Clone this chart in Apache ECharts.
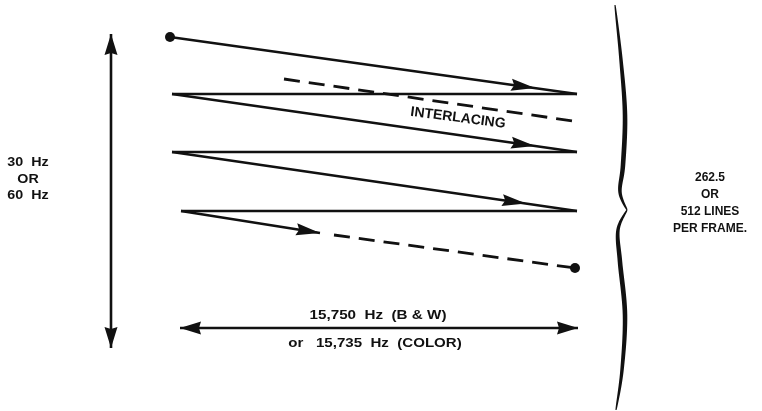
<!DOCTYPE html>
<html>
<head>
<meta charset="utf-8">
<script src="https://cdn.jsdelivr.net/npm/echarts@6/dist/echarts.min.js"></script>
<style>
  html, body { margin: 0; padding: 0; background: #fff; }
  #chart { width: 762px; height: 411px; }
</style>
</head>
<body>
<div id="chart"></div>
<script>
// diagram space is 762 x 411, y grows downwards

// scan traces: x1, y1, x2, y2, x of the arrow tip
const scanLines = [
  [170, 37, 577, 94, 535],
  [172, 94, 577, 152, 535],
  [172, 152, 577, 211, 526],
  [181, 211, 320, 233, 320]
];
// horizontal retrace lines
const retraceLines = [
  [172, 94, 577, 94],
  [172, 152, 577, 152],
  [181, 211, 577, 211]
];
// dashed: interlaced field + rest of last line
const dashedLines = [
  [284, 79, 573, 121],
  [334, 235, 575, 268]
];
const endDots = [[170, 37], [575, 268]];
// double headed arrows: vertical (frame rate) and horizontal (line rate)
const dimArrows = [
  [111, 34, 111, 348],
  [180, 328, 578, 328]
];
// curly brace, upper and lower half, meeting at the tip
const braceUpper = [[615, 5], [621, 60], [625, 115], [623, 165], [620, 192], [627, 210]];
const braceLower = [[627, 210], [618, 230], [620, 262], [625, 315], [622, 370], [616, 410]];

const labelPos = [[28, 179], [710, 203], [458, 118], [378, 315], [375, 343]];
const labelText = [
  '30  Hz\nOR\n60  Hz',
  '262.5\nOR\n512 LINES\nPER FRAME.',
  'INTERLACING',
  '15,750  Hz  (B & W)',
  'or   15,735  Hz  (COLOR)'
];

const INK = '#111';
const FONT = '"Liberation Sans", Arial, Helvetica, sans-serif';
// font size, horizontal stretch, line height per label
const labelLook = [[13, 1.1, 16.5], [12.5, 0.96, 17], [14, 1.0, 16], [13, 1.17, 16], [13, 1.16, 16]];

function head(tip, from, len, hw, notch) {
  const dx = tip[0] - from[0], dy = tip[1] - from[1];
  const l = Math.hypot(dx, dy);
  const ux = dx / l, uy = dy / l, nx = -uy, ny = ux;
  const bx = tip[0] - ux * len, by = tip[1] - uy * len;
  return {
    type: 'polygon',
    shape: { points: [tip, [bx + nx * hw, by + ny * hw], [bx + ux * notch, by + uy * notch], [bx - nx * hw, by - ny * hw]] },
    style: { fill: INK }
  };
}

function seg(a, b, w, dash) {
  return {
    type: 'line',
    shape: { x1: a[0], y1: a[1], x2: b[0], y2: b[1] },
    style: { stroke: INK, lineWidth: w, lineDash: dash || null }
  };
}

function catmull(pts, steps) {
  const out = [];
  for (let i = 0; i < pts.length - 1; i++) {
    const p0 = pts[Math.max(i - 1, 0)], p1 = pts[i], p2 = pts[i + 1], p3 = pts[Math.min(i + 2, pts.length - 1)];
    for (let s = 0; s < steps; s++) {
      const t = s / steps, t2 = t * t, t3 = t2 * t;
      out.push([0, 1].map(k => 0.5 * (2 * p1[k] + (-p0[k] + p2[k]) * t +
        (2 * p0[k] - 5 * p1[k] + 4 * p2[k] - p3[k]) * t2 +
        (-p0[k] + 3 * p1[k] - 3 * p2[k] + p3[k]) * t3)));
    }
  }
  out.push(pts[pts.length - 1]);
  return out;
}

const braceHalves = [braceUpper, braceLower];

const chart = echarts.init(document.getElementById('chart'));

chart.setOption({
  animation: false,
  backgroundColor: '#fff',
  grid: { left: 0, right: 0, top: 0, bottom: 0 },
  xAxis: { type: 'value', min: 0, max: 762, show: false },
  yAxis: { type: 'value', min: 0, max: 411, inverse: true, show: false },
  series: [
    {
      type: 'custom',
      name: 'scan',
      data: scanLines,
      renderItem: function (params, api) {
        const x1 = api.value(0), y1 = api.value(1), x2 = api.value(2), y2 = api.value(3), tx = api.value(4);
        const ty = y1 + (y2 - y1) * (tx - x1) / (x2 - x1);
        const a = api.coord([x1, y1]), b = api.coord([x2, y2]), t = api.coord([tx, ty]);
        return { type: 'group', children: [seg(a, b, 2.4), head(t, a, 24, 6, 3)] };
      }
    },
    {
      type: 'custom',
      name: 'retrace',
      data: retraceLines,
      renderItem: function (params, api) {
        return seg(api.coord([api.value(0), api.value(1)]), api.coord([api.value(2), api.value(3)]), 2.5);
      }
    },
    {
      type: 'custom',
      name: 'dashed',
      data: dashedLines,
      renderItem: function (params, api) {
        return seg(api.coord([api.value(0), api.value(1)]), api.coord([api.value(2), api.value(3)]), 2.8, [16, 9]);
      }
    },
    {
      type: 'scatter',
      name: 'dots',
      data: endDots,
      symbolSize: 10,
      itemStyle: { color: INK, opacity: 1 }
    },
    {
      type: 'custom',
      name: 'dims',
      data: dimArrows,
      renderItem: function (params, api) {
        const a = api.coord([api.value(0), api.value(1)]), b = api.coord([api.value(2), api.value(3)]);
        return { type: 'group', children: [seg(a, b, 2.6), head(a, b, 21, 6.5, 2), head(b, a, 21, 6.5, 2)] };
      }
    },
    {
      type: 'custom',
      name: 'brace',
      data: [[0], [1]],
      renderItem: function (params, api) {
        const pts = catmull(braceHalves[params.dataIndex].map(p => api.coord(p)), 12);
        const n = pts.length;
        const left = [], right = [];
        for (let i = 0; i < n; i++) {
          const p = pts[Math.max(i - 1, 0)], q = pts[Math.min(i + 1, n - 1)];
          const dx = q[0] - p[0], dy = q[1] - p[1], l = Math.hypot(dx, dy) || 1;
          const nx = -dy / l, ny = dx / l;
          const w = (1.1 + 3.6 * Math.pow(Math.sin(Math.PI * i / (n - 1)), 0.8)) / 2;
          left.push([pts[i][0] + nx * w, pts[i][1] + ny * w]);
          right.push([pts[i][0] - nx * w, pts[i][1] - ny * w]);
        }
        return { type: 'polygon', shape: { points: left.concat(right.reverse()) }, style: { fill: INK } };
      }
    },
    {
      type: 'custom',
      name: 'labels',
      data: labelPos,
      renderItem: function (params, api) {
        const i = params.dataIndex;
        const p = api.coord([api.value(0), api.value(1)]);
        let rot = 0;
        if (i === 2) {
          const d = dashedLines[0];
          const a = api.coord([d[0], d[1]]), b = api.coord([d[2], d[3]]);
          rot = -Math.atan2(b[1] - a[1], b[0] - a[0]) * 0.9;
        }
        const look = labelLook[i];
        return {
          type: 'text',
          x: p[0], y: p[1], rotation: rot, scaleX: look[1],
          style: {
            text: labelText[i],
            fill: INK,
            font: 'bold ' + look[0] + 'px ' + FONT,
            align: 'center',
            verticalAlign: 'middle',
            lineHeight: look[2]
          }
        };
      }
    }
  ]
});
</script>
</body>
</html>
